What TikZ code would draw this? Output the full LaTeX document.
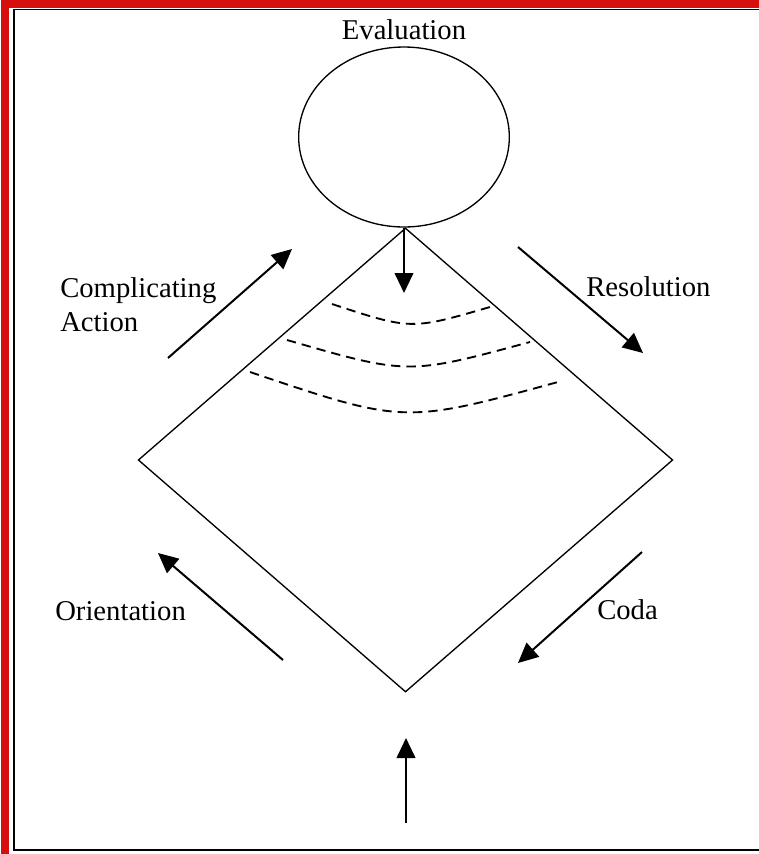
\documentclass[tikz,border=0pt]{standalone}
\usepackage{fontspec}
\setmainfont{Liberation Serif}
\usetikzlibrary{shapes.geometric,arrows.meta,positioning}
\definecolor{framered}{RGB}{214,14,14}

\begin{document}
\begin{tikzpicture}[
    x=0.75pt, y=-0.75pt,
    stage/.style={font=\fontsize{21.5}{25.5}\selectfont, inner sep=0pt, align=left},
    arrow/.style={-{Triangle[length=15pt,width=14pt]}, line width=1.5pt},
    wave/.style={dash pattern=on 7pt off 4.5pt, line width=1.4pt},
    outline/.style={draw, line width=1pt, inner sep=0pt}
]
    \useasboundingbox (0,0) rectangle (759,854);

    % Rahmen
    \draw[framered, line width=6pt] (5,854) -- (5,4) -- (759,4);
    \draw[line width=1.3pt] (759,9.5) -- (14,9.5) -- (14,850) -- (759,850);

    % Formen
    \node[outline, ellipse, minimum width=158pt, minimum height=135pt] (eval) at (404,137) {};
    \node[outline, diamond, minimum width=401pt, minimum height=348pt] (plot) at (405.5,460) {};
    \node[stage, above=5pt of eval] (evallabel) {Evaluation};

    % Beschriftungen
    \node[stage, anchor=west] (compl) at (60,305) {Complicating\\Action};
    \node[stage, anchor=west] (resol) at (586,287) {Resolution};
    \node[stage, anchor=west] (orient) at (55,611) {Orientation};
    \node[stage, anchor=west] (coda) at (597,610) {Coda};

    % Endpunkte der Pfeile
    \coordinate (complA) at (168,358);  \coordinate (complB) at (292,249);
    \coordinate (resolA) at (518,247);  \coordinate (resolB) at (643,353);
    \coordinate (orientA) at (283,660); \coordinate (orientB) at (158,553);
    \coordinate (codaA) at (642,552);   \coordinate (codaB) at (518,663);
    \coordinate (start) at (406,823);   \coordinate (evalB) at (404,293);

    % Pfeile
    \draw[arrow] (complA) -- (complB);
    \draw[arrow] (resolA) -- (resolB);
    \draw[arrow] (orientA) -- (orientB);
    \draw[arrow] (codaA) -- (codaB);
    \draw[arrow] (start) -- (start |- 0,738);
    \draw[arrow] (eval.south) -- (evalB);

    % Wellen
    \draw[wave] (332,304) .. controls (411,330) .. (490,307);
    \draw[wave] (287,340) .. controls (408,375) .. (530,342);
    \draw[wave] (250,372) .. controls (404,424) .. (558,382);
\end{tikzpicture}
\end{document}
